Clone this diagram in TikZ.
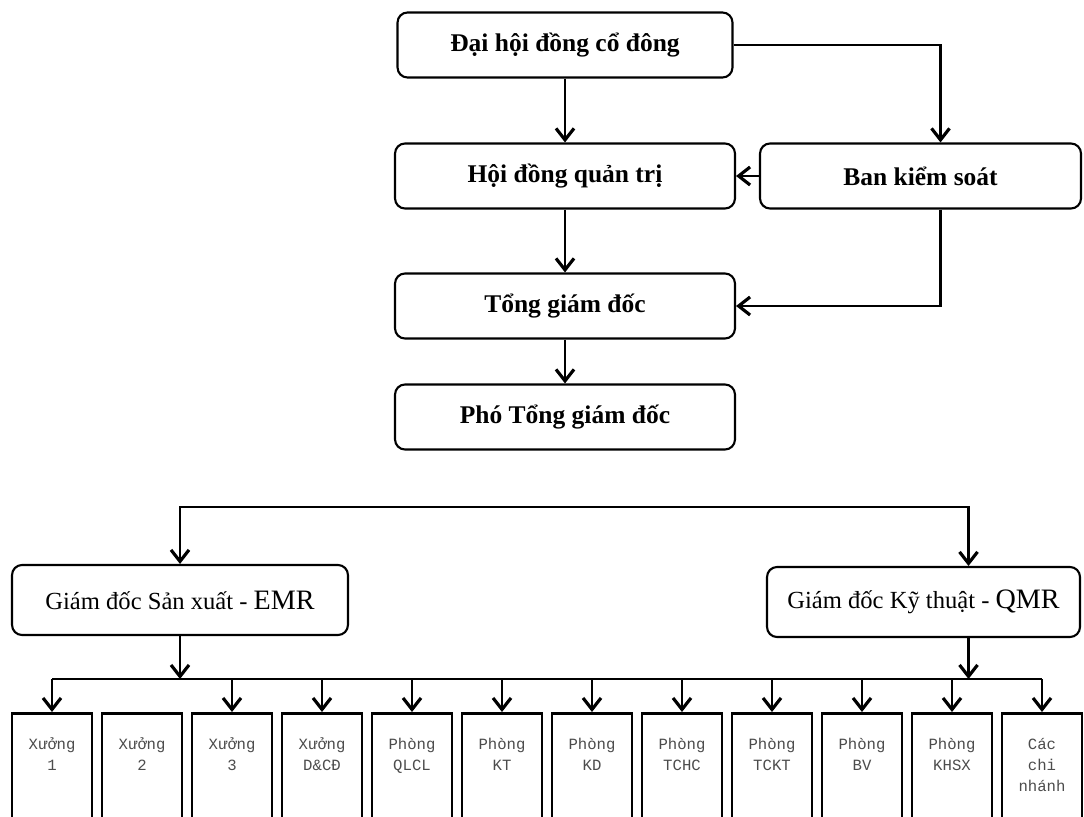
\documentclass[tikz,border=0pt]{standalone}
\usepackage{fontspec}
\setmainfont{Liberation Serif}
\newfontfamily\unitfont{Liberation Mono}
\usetikzlibrary{positioning,arrows.meta,calc}

\begin{document}
\begin{tikzpicture}[x=.02cm,y=-.02cm,
  board/.style={draw,line width=1.2pt,rounded corners=.2cm,minimum width=6.8cm,minimum height=1.3cm,font=\fontsize{14.5}{16}\selectfont\bfseries},
  head/.style={draw,line width=1.2pt,rounded corners=.2cm,minimum height=1.4cm,font=\fontsize{14}{16}\selectfont},
  unit/.style={draw,line width=1.6pt,anchor=north,inner sep=0pt,text width=1.6cm,align=center,text height=.72cm,text depth=1.7cm,text=black!70,font=\unitfont\fontsize{8.9}{12}\selectfont},
  link/.style={line width=1.5pt,-{Straight Barb[length=2.3mm,width=3.6mm,line width=1.8pt]}},
  fork/.style={line width=1.5pt,{Straight Barb[length=2.3mm,width=3.6mm,line width=1.8pt]}-{Straight Barb[length=2.3mm,width=3.6mm,line width=1.8pt]}}]
  \useasboundingbox[fill=white] (0,0) rectangle (1084,817);
  % upper management
  \node[board,minimum width=6.7cm] (dhcd) at (565,45){Đại hội đồng cổ đông};
  \node[board] (hdqt) at (565,176){Hội đồng quản trị};
  \node[board,minimum width=6.42cm] (bks) at (920.5,176){Ban kiểm soát};
  \node[board] (tgd) at (565,306){Tổng giám đốc};
  \node[board] (ptgd) at (565,417){Phó Tổng giám đốc};
  \draw[link] (dhcd)--(hdqt);
  \draw[link] (hdqt)--(tgd);
  \draw[link] (tgd)--(ptgd);
  \draw[link] (bks)--(hdqt);
  \draw[link] (dhcd.east) -| ($(bks.north)+(20,0)$);
  \draw[link] ($(bks.south)+(20,0)$) |- (tgd.east);
  % directors
  \node[head,minimum width=6.72cm] (gdsx) at (180,600){Giám đốc Sản xuất - {\fontsize{16}{18}\selectfont EMR}};
  \node[head,minimum width=6.26cm] (gdkt) at (923.5,602){Giám đốc Kỹ thuật - {\fontsize{16}{18}\selectfont QMR}};
  \coordinate (top) at (0,507);
  \coordinate (bus) at (0,679);
  \coordinate (ktin) at ($(gdkt.north)+(45,0)$);
  \coordinate (ktout) at ($(gdkt.south)+(45,0)$);
  \draw[fork] (gdsx.north) -- (gdsx.north |- top) -| (ktin);
  % units
  \node[unit] (x1) at (52,712){Xưởng\\1};
  \node[unit] (x2) at (142,712){Xưởng\\2};
  \node[unit] (x3) at (232,712){Xưởng\\3};
  \node[unit] (xdc) at (322,712){Xưởng\\D\&CĐ};
  \node[unit] (qlcl) at (412,712){Phòng\\QLCL};
  \node[unit] (kt) at (502,712){Phòng\\KT};
  \node[unit] (kd) at (592,712){Phòng\\KD};
  \node[unit] (tchc) at (682,712){Phòng\\TCHC};
  \node[unit] (tckt) at (772,712){Phòng\\TCKT};
  \node[unit] (bv) at (862,712){Phòng\\BV};
  \node[unit] (khsx) at (952,712){Phòng\\KHSX};
  \node[unit] (cn) at (1042,712){Các\\chi\\nhánh};
  \draw[link] (gdsx.south) -- (gdsx.south |- bus);
  \draw[link] (ktout) -- (ktout |- bus);
  \draw[line width=1.5pt] (x1.north |- bus) -- (cn.north |- bus);
  \foreach \u in {x1,x3,xdc,qlcl,kt,kd,tchc,tckt,bv,khsx,cn}
    \draw[link] (\u.north |- bus) -- (\u.north);
\end{tikzpicture}
\end{document}
